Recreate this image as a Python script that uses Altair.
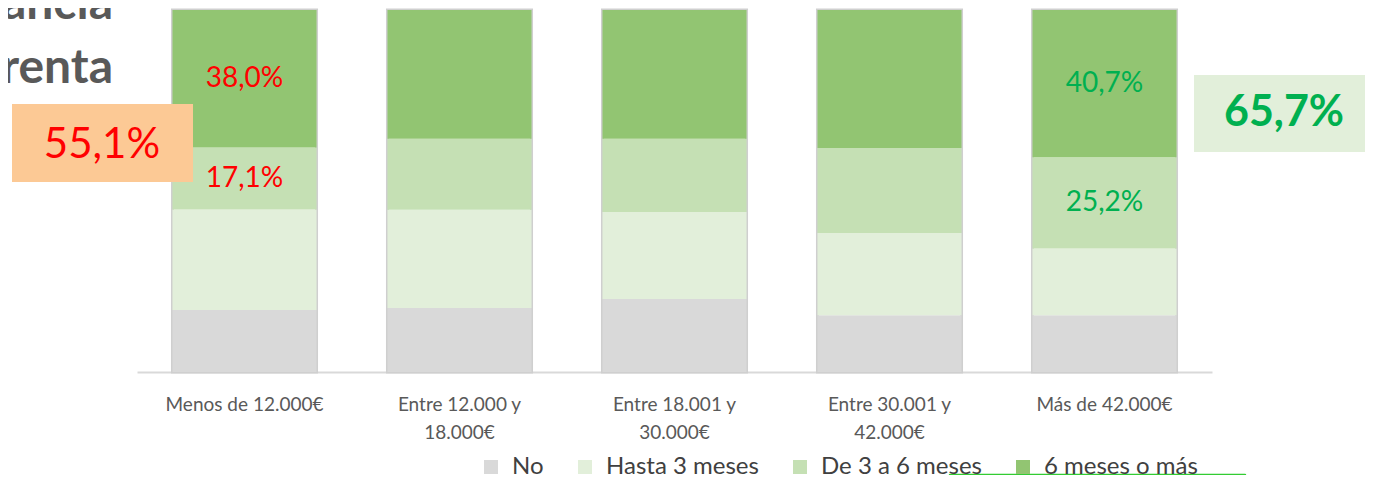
import altair as alt
import pandas as pd

categories = ["Menos de 12.000€", "Entre 12.000 y|18.000€", "Entre 18.001 y|30.000€",
              "Entre 30.001 y|42.000€", "Más de 42.000€"]
series = ["No", "Hasta 3 meses", "De 3 a 6 meses", "6 meses o más"]
no_vals = [17.1, 17.7, 20.2, 15.7, 15.7]
hasta_vals = [27.8, 27.1, 24.0, 22.7, 18.4]
de3a6_vals = [17.1, 19.6, 20.2, 23.5, 25.2]
mas6_vals = [38.0, 35.6, 35.6, 38.1, 40.7]
# which segments carry a value label (category index, series index)
labeled_red = [(0, 2), (0, 3)]
labeled_green = [(4, 2), (4, 3)]
total_left = "55,1%"
total_right = "65,7%"
title_lines = ["ancia", "renta"]

colors = ["#D9D9D9", "#E2EFDA", "#C5E0B4", "#92C572"]
FONT = "Lato"

rows = []
all_vals = [no_vals, hasta_vals, de3a6_vals, mas6_vals]
for ci, cat in enumerate(categories):
    acc = 0.0
    for si, s in enumerate(series):
        v = all_vals[si][ci]
        lab = ""
        col = "none"
        if (ci, si) in labeled_red:
            lab, col = f"{v:.1f}".replace(".", ",") + "%", "red"
        elif (ci, si) in labeled_green:
            lab, col = f"{v:.1f}".replace(".", ",") + "%", "green"
        rows.append(dict(cat=cat, series=s, idx=si, value=v, start=acc, end=acc + v,
                         mid=acc + v / 2, label=lab, lcol=col))
        acc += v
df = pd.DataFrame(rows)
tot = pd.DataFrame({"cat": categories, "total": [sum(all_vals[s][i] for s in range(4)) for i in range(5)]})

xenc = alt.X("cat:N", sort=categories,
             scale=alt.Scale(paddingInner=0.33, paddingOuter=0.165),
             axis=alt.Axis(title=None, labelExpr="split(datum.label, '|')", labelAngle=0,
                           labelFont=FONT, labelFontSize=19, labelColor="#595959",
                           labelLineHeight=28, labelPadding=23, ticks=False,
                           domainColor="#D9D9D9", domainWidth=2, grid=False))
yscale = alt.Scale(domain=[0, 100], nice=False, zero=True)

shadow = alt.Chart(tot).mark_bar(fill=None, stroke="#CFCFCF", strokeWidth=3).encode(
    x=xenc,
    y=alt.Y("total:Q", scale=yscale, axis=None),
)

bars = alt.Chart(df).mark_bar().encode(
    x=xenc,
    y=alt.Y("start:Q", scale=yscale, axis=None),
    y2="end:Q",
    color=alt.Color("series:N", sort=series,
                    scale=alt.Scale(domain=series, range=colors),
                    legend=alt.Legend(title=None, orient="none", direction="horizontal",
                                      legendX=342, legendY=445, symbolType="square",
                                      symbolSize=196, symbolStrokeWidth=0,
                                      labelFont=FONT, labelFontSize=24, labelColor="#404040",
                                      labelLimit=500, columnPadding=29, labelOffset=9)),
    order=alt.Order("idx:Q", sort="ascending"),
)

labels = alt.Chart(df[df["label"] != ""]).mark_text(font=FONT, fontSize=28).encode(
    x=alt.X("cat:N", sort=categories),
    y=alt.Y("mid:Q", scale=yscale),
    text="label:N",
    color=alt.Color("lcol:N", scale=alt.Scale(domain=["red", "green"], range=["#FF0000", "#00B050"]),
                    legend=None),
)

one = pd.DataFrame({"k": [0]})
box_left = alt.Chart(one).mark_rect(color="#FCC995").encode(
    x=alt.value(-125), x2=alt.value(56), y=alt.value(94), y2=alt.value(172))
txt_left = alt.Chart(one).mark_text(text=total_left, font=FONT, fontSize=42, color="#FF0000",
                                    align="center", baseline="middle").encode(
    x=alt.value(-35), y=alt.value(135))
box_right = alt.Chart(one).mark_rect(color="#E2EFDA").encode(
    x=alt.value(1057), x2=alt.value(1250), y=alt.value(65), y2=alt.value(142))
txt_right = alt.Chart(one).mark_text(text=total_right, font=FONT, fontSize=43, fontWeight="bold",
                                     color="#00B050", align="center", baseline="middle").encode(
    x=alt.value(1147), y=alt.value(103))
title1 = alt.Chart(one).mark_text(text=title_lines[0], font=FONT, fontSize=48, fontWeight="bold",
                                  color="#595959", align="right", baseline="alphabetic").encode(
    x=alt.value(-24), y=alt.value(9))
title2 = alt.Chart(one).mark_text(text=title_lines[1], font=FONT, fontSize=48, fontWeight="bold",
                                  color="#595959", align="right", baseline="alphabetic").encode(
    x=alt.value(-24), y=alt.value(73))
swoosh = alt.Chart(one).mark_rule(color="#33CC33", strokeWidth=2.5, strokeCap="round").encode(
    x=alt.value(813), x2=alt.value(1108), y=alt.value(465))

chart = alt.layer(shadow, bars, labels, box_left, txt_left, box_right, txt_right,
                  title1, title2, swoosh).resolve_scale(color="independent").properties(
    width=1075, height=362,
    autosize=alt.AutoSizeParams(type="none"),
    padding={"left": 129, "top": 2, "right": 153, "bottom": 103},
    background="white",
).configure_view(stroke=None)

chart.save("out.html", embed_options={"renderer": "svg", "actions": False})
